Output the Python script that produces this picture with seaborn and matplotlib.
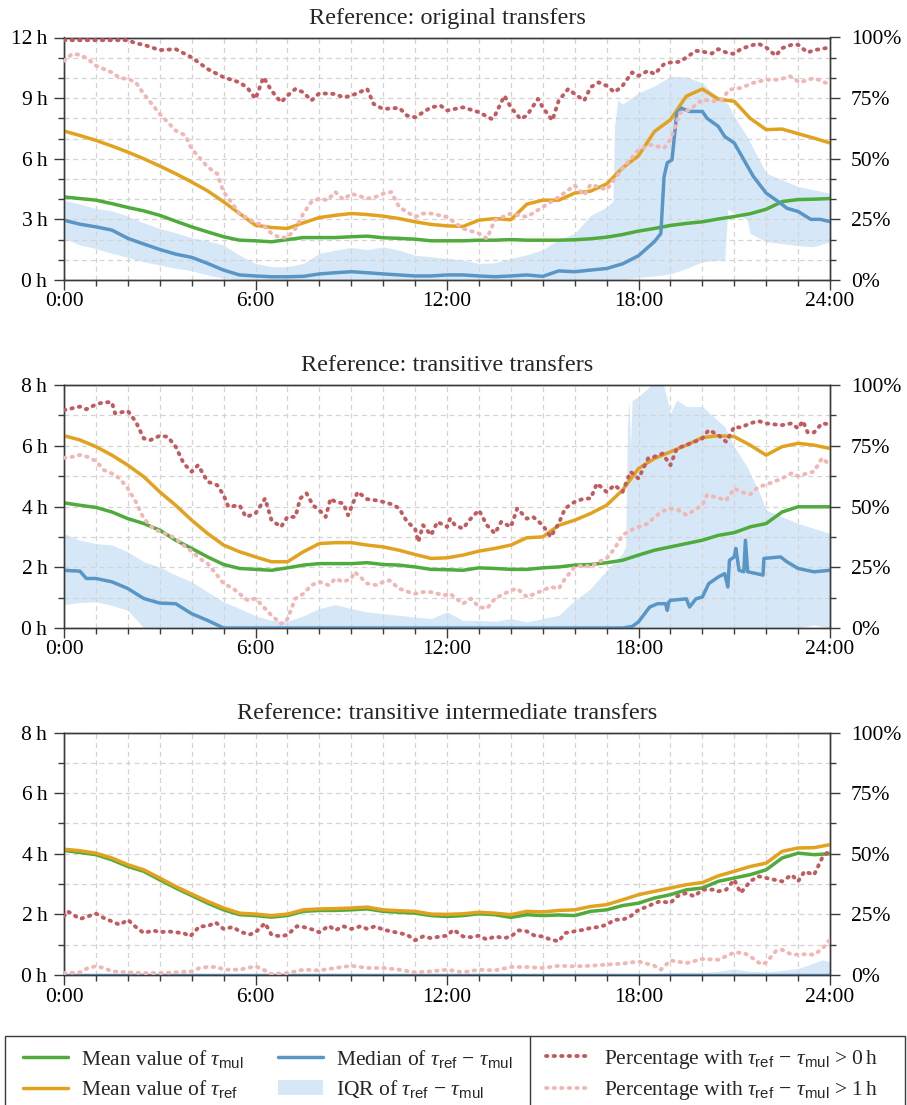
import numpy as np
import matplotlib
matplotlib.use("Agg")
import matplotlib.pyplot as plt
import seaborn as sns
from matplotlib.ticker import MultipleLocator, FuncFormatter
from matplotlib.lines import Line2D
from matplotlib.patches import Patch, Rectangle

# ---------------------------------------------------------------- data
HALF = [i * 0.5 for i in range(49)]  # 0:00 ... 24:00 in half-hour steps

# --- original transfers
orig_mean_mul = [4.11, 4.03, 3.95, 3.78, 3.59, 3.42, 3.20, 2.91, 2.63, 2.38, 2.14, 1.97, 1.94, 1.89,
                 2.00, 2.10, 2.10, 2.10, 2.14, 2.17, 2.09, 2.06, 2.02, 1.94, 1.94, 1.94, 1.97, 1.97,
                 2.00, 1.97, 1.97, 1.97, 1.99, 2.04, 2.12, 2.25, 2.42, 2.55, 2.70, 2.80, 2.88, 3.02,
                 3.14, 3.28, 3.50, 3.88, 3.98, 4.00, 4.03]
orig_mean_ref = [7.37, 7.15, 6.91, 6.63, 6.33, 6.00, 5.64, 5.26, 4.85, 4.41, 3.87, 3.29, 2.71, 2.60,
                 2.55, 2.83, 3.09, 3.20, 3.29, 3.24, 3.16, 3.04, 2.88, 2.75, 2.68, 2.65, 2.96, 3.04,
                 2.98, 3.75, 3.95, 3.95, 4.30, 4.40, 4.75, 5.55, 6.15, 7.35, 7.93, 9.10, 9.45, 8.95,
                 8.84, 8.00, 7.44, 7.47, 7.24, 7.02, 6.78]
orig_median_t = HALF[:38] + [18.7, 18.8, 18.9, 19.05, 19.2, 19.35, 19.6, 20.0, 20.15, 20.5, 20.7,
                             21.0, 21.3, 21.6, 22.0, 22.45, 22.65, 23.0, 23.4, 23.7, 24.0]
orig_median = [2.96, 2.76, 2.63, 2.47, 2.06, 1.78, 1.51, 1.28, 1.12, 0.82, 0.49, 0.25, 0.20, 0.16,
               0.16, 0.18, 0.30, 0.36, 0.41, 0.36, 0.30, 0.25, 0.20, 0.20, 0.25, 0.25, 0.20, 0.16,
               0.20, 0.25, 0.18, 0.45, 0.41, 0.49, 0.57, 0.80, 1.20, 1.90,
               2.30, 5.10, 5.80, 5.95, 8.26, 8.50, 8.34, 8.34, 8.00, 7.60, 7.10,
               6.78, 5.95, 5.12, 4.30, 3.80, 3.55, 3.39, 3.00, 3.00, 2.89]
orig_iqr_t = HALF[:35] + [17.2, 17.25, 17.35, 17.5, 18.0, 18.5, 19.0, 19.5, 20.0, 20.3, 20.7, 20.8,
                          21.0, 21.4, 21.5, 22.0, 22.5, 23.0, 23.5, 24.0]
orig_iqr_hi = [3.95, 3.75, 3.54, 3.42, 3.16, 2.83, 2.55, 2.34, 2.10, 1.94, 1.73, 1.23, 0.82, 0.66,
               0.66, 0.82, 1.32, 1.48, 1.61, 1.51, 1.64, 1.48, 1.23, 1.15, 1.07, 0.99, 0.82, 0.85,
               1.07, 1.25, 1.50, 2.00, 2.30, 3.20, 3.60,
               3.90, 7.60, 8.90, 8.70, 9.26, 9.60, 10.08, 10.05, 9.75, 9.30, 8.84, 8.70,
               8.10, 7.10, 6.80, 5.29, 4.95, 4.63, 4.46, 4.30]
orig_iqr_lo = [2.06, 1.73, 1.56, 1.32, 1.12, 0.90, 0.74, 0.58, 0.46, 0.25, 0.08, 0.0, 0.0, 0.0,
               0.0, 0.0, 0.0, 0.0, 0.0, 0.0, 0.0, 0.0, 0.0, 0.0, 0.0, 0.0, 0.0, 0.0,
               0.0, 0.0, 0.0, 0.0, 0.0, 0.0, 0.0,
               0.0, 0.0, 0.0, 0.0, 0.13, 0.20, 0.30, 0.57, 0.90, 0.95, 0.99, 3.50,
               3.30, 3.00, 2.30, 1.90, 1.80, 1.70, 1.65, 1.90]
orig_pct0_t = [0, 0.5, 1, 1.5, 2, 2.25, 2.5, 3, 3.5, 4, 4.5, 5, 5.5, 5.75, 6, 6.25, 6.5, 6.8, 7, 7.25,
               7.5, 7.75, 8, 8.5, 8.75, 9, 9.5, 9.7, 10, 10.5, 10.75, 11, 11.5, 11.8, 12, 12.5, 13,
               13.4, 13.5, 13.8, 14, 14.3, 14.5, 14.85, 15, 15.3, 15.5, 15.8, 16, 16.3, 16.5, 16.75,
               17, 17.25, 17.5, 17.8, 18, 18.3, 18.5, 18.8, 19, 19.3, 19.5, 19.8, 20, 20.3, 20.5,
               20.75, 21, 21.2, 21.5, 21.75, 22, 22.3, 22.5, 22.8, 23, 23.3, 23.5, 24]
orig_pct0 = [98.9, 98.9, 98.9, 98.9, 98.9, 97.6, 97.0, 94.8, 95.2, 91.8, 87.0, 83.6, 81.5, 79.2, 74.7,
             83.6, 78.1, 73.3, 76.0, 78.8, 77.4, 74.0, 77.0, 76.7, 75.3, 76.0, 78.8, 72.6, 70.5, 71.0,
             67.8, 67.1, 71.2, 71.9, 69.9, 71.2, 69.2, 66.4, 67.8, 76.0, 71.2, 66.4, 67.8, 74.7, 71.2,
             65.8, 74.0, 78.8, 76.7, 74.0, 79.5, 81.5, 80.1, 77.4, 80.1, 85.6, 84.2, 86.3, 84.9, 89.0,
             89.7, 90.0, 91.8, 94.5, 94.2, 93.4, 95.2, 93.8, 93.2, 95.2, 96.6, 97.5, 95.9, 92.5, 95.6,
             97.0, 97.0, 93.8, 94.8, 95.9]
orig_pct1_t = [0, 0.25, 0.5, 0.75, 1, 1.5, 1.75, 2, 2.25, 2.5, 3, 3.5, 3.8, 4, 4.5, 4.8, 5, 5.5, 6,
               6.25, 6.5, 6.75, 7, 7.25, 7.5, 7.75, 8, 8.25, 8.5, 8.75, 9, 9.5, 9.75, 10, 10.25, 10.5,
               11, 11.25, 11.5, 12, 12.5, 13, 13.25, 13.5, 14, 14.5, 15, 15.5, 16, 16.3, 16.5, 17,
               17.5, 18, 18.4, 18.8, 19, 19.3, 19.6, 20, 20.35, 20.6, 20.85, 21.2, 21.6, 22, 22.4,
               22.75, 23.05, 23.5, 24]
orig_pct1 = [90.4, 93.2, 92.9, 91.1, 88.4, 85.6, 83.3, 82.9, 81.5, 76.7, 68.5, 61.6, 59.6, 54.1, 46.6,
             43.8, 36.3, 27.4, 23.6, 22.6, 19.2, 17.5, 17.5, 21.2, 27.4, 32.2, 33.6, 32.9, 36.3, 33.2,
             35.6, 33.6, 34.2, 35.6, 36.3, 30.1, 26.0, 27.4, 27.4, 26.0, 21.2, 19.2, 17.1, 24.7, 27.4,
             26.0, 30.1, 34.2, 39.0, 35.0, 39.4, 37.2, 46.0, 53.7, 55.8, 54.4, 57.9, 68.9, 70.2, 74.4,
             73.7, 74.4, 78.5, 79.2, 81.3, 82.6, 82.6, 84.0, 81.5, 83.3, 80.6]

# --- transitive transfers
trans_mean_mul = [4.12, 4.04, 3.97, 3.82, 3.60, 3.44, 3.22, 2.89, 2.62, 2.34, 2.09, 1.96, 1.93, 1.90,
                  1.98, 2.07, 2.12, 2.12, 2.12, 2.15, 2.09, 2.07, 2.01, 1.93, 1.92, 1.90, 1.98, 1.96,
                  1.93, 1.93, 1.98, 2.01, 2.07, 2.09, 2.15, 2.23, 2.40, 2.56, 2.67, 2.78, 2.89, 3.05,
                  3.14, 3.33, 3.44, 3.82, 3.99, 3.99, 3.99]
trans_mean_ref = [6.33, 6.19, 5.97, 5.69, 5.36, 4.98, 4.48, 4.04, 3.55, 3.11, 2.73, 2.51, 2.34, 2.18,
                  2.18, 2.51, 2.78, 2.81, 2.81, 2.73, 2.67, 2.56, 2.42, 2.29, 2.31, 2.40, 2.53, 2.62,
                  2.73, 2.97, 3.00, 3.38, 3.55, 3.77, 4.04, 4.54, 5.25, 5.58, 5.80, 6.02, 6.27, 6.33,
                  6.30, 6.02, 5.69, 5.97, 6.08, 6.02, 5.91]
trans_median_t = [0, 0.5, 0.7, 1, 1.5, 2, 2.5, 3, 3.5, 4, 4.5, 5, 17.5, 17.8, 18, 18.35, 18.6, 18.85,
                  18.9, 18.95, 19, 19.5, 19.6, 19.8, 20, 20.2, 20.5, 20.7, 20.8, 20.85, 21, 21.05,
                  21.15, 21.3, 21.35, 21.42, 21.7, 21.9, 21.93, 22.45, 22.65, 23, 23.5, 24]
trans_median = [1.90, 1.87, 1.63, 1.63, 1.52, 1.30, 0.97, 0.82, 0.80, 0.47, 0.25, 0.0, 0.0, 0.05,
                0.20, 0.69, 0.80, 0.80, 0.58, 0.85, 0.91, 0.96, 0.69, 0.96, 1.02, 1.46, 1.68, 1.79,
                1.35, 2.23, 2.34, 2.62, 1.90, 1.85, 2.89, 1.85, 1.79, 1.74, 2.29, 2.34, 2.18, 1.96,
                1.85, 1.90]
trans_iqr_t = HALF[:36] + [17.6, 17.65, 17.7, 17.75, 17.8, 18.0, 18.35, 18.6, 18.8, 19.0, 19.2,
                           19.5, 20.0, 20.35, 20.7, 21.0, 21.4, 21.8, 22.0, 22.5, 23.0, 23.5, 24.0]
trans_iqr_hi = [3.11, 2.89, 2.78, 2.73, 2.51, 2.18, 2.01, 1.74, 1.52, 1.19, 0.86, 0.64, 0.40, 0.25,
                0.22, 0.40, 0.64, 0.77, 0.64, 0.53, 0.47, 0.42, 0.36, 0.31, 0.53, 0.25, 0.25, 0.22,
                0.31, 0.20, 0.31, 0.42, 0.90, 1.30, 1.90, 2.45,
                2.70, 6.50, 7.50, 6.00, 7.50, 7.62, 7.95, 8.30, 7.95, 7.07, 7.51,
                7.29, 7.29, 6.96, 6.63, 5.97, 5.31, 4.43, 3.88, 3.66, 3.44, 3.28, 3.11]
trans_iqr_lo = [0.77, 0.84, 0.86, 0.75, 0.58, 0.0, 0.0, 0.0, 0.0, 0.0, 0.0, 0.0, 0.0, 0.0,
                0.0, 0.0, 0.0, 0.0, 0.0, 0.0, 0.0, 0.0, 0.0, 0.0, 0.0, 0.0, 0.0, 0.0,
                0.0, 0.0, 0.0, 0.0, 0.0, 0.0, 0.0, 0.0,
                0.0, 0.0, 0.0, 0.0, 0.0, 0.0, 0.0, 0.0, 0.0, 0.0, 0.0,
                0.0, 0.0, 0.0, 0.0, 0.0, 0.0, 0.0, 0.0, 0.0, 0.0, 0.10, 0.0]
trans_pct0_t = [0, 0.25, 0.5, 0.7, 1, 1.25, 1.5, 1.6, 2, 2.25, 2.5, 2.7, 3, 3.25, 3.5, 3.75, 4, 4.2,
                4.5, 4.8, 5, 5.15, 5.5, 5.7, 6, 6.3, 6.5, 6.8, 7, 7.25, 7.4, 7.6, 7.8, 8, 8.2, 8.35,
                8.5, 8.75, 8.9, 9.2, 9.5, 9.8, 10, 10.3, 10.5, 10.75, 11, 11.1, 11.25, 11.5, 11.7, 12,
                12.1, 12.25, 12.5, 12.7, 13, 13.25, 13.5, 13.7, 14, 14.2, 14.5, 14.7, 15, 15.25, 15.5,
                15.7, 16, 16.3, 16.5, 16.7, 17, 17.25, 17.5, 17.75, 18, 18.3, 18.5, 18.75, 19, 19.2,
                19.5, 19.75, 20, 20.2, 20.5, 20.75, 21, 21.2, 21.5, 21.75, 22, 22.25, 22.5, 22.8, 23,
                23.15, 23.3, 23.5, 23.75, 24]
trans_pct0 = [89.7, 90.4, 91.1, 90.0, 92.0, 92.9, 92.9, 88.3, 89.3, 84.9, 78.0, 77.3, 79.1, 78.7,
              74.6, 67.7, 64.3, 67.0, 60.2, 58.8, 54.7, 49.9, 50.5, 45.7, 47.1, 53.3, 44.4, 41.6,
              45.7, 45.7, 53.3, 55.4, 50.5, 48.5, 45.7, 53.3, 51.9, 51.3, 46.4, 56.0, 53.0, 52.5,
              51.9, 50.8, 49.2, 43.7, 40.9, 35.4, 42.3, 38.2, 43.7, 41.6, 45.0, 42.3, 40.9, 44.4,
              48.5, 42.3, 38.9, 43.7, 41.6, 49.2, 45.0, 45.7, 42.3, 37.5, 43.0, 49.2, 51.9, 53.3,
              53.3, 59.5, 56.0, 58.8, 56.0, 64.3, 61.5, 69.8, 70.5, 71.8, 67.0, 73.9, 75.3, 76.6,
              78.0, 81.5, 79.4, 76.6, 82.8, 82.5, 84.2, 85.2, 84.2, 83.8, 83.5, 84.2, 82.1, 85.2,
              80.5, 80.5, 84.2, 83.8]
trans_pct1_t = [0, 0.25, 0.5, 0.75, 1, 1.25, 1.5, 1.75, 2, 2.25, 2.5, 2.8, 3, 3.3, 3.5, 3.8, 4, 4.25,
                4.5, 4.8, 5, 5.3, 5.5, 5.75, 6, 6.25, 6.5, 6.8, 6.95, 7, 7.25, 7.5, 7.75, 8, 8.3, 8.5,
                8.75, 9, 9.1, 9.4, 9.5, 9.8, 10, 10.2, 10.5, 10.8, 11, 11.25, 11.5, 11.7, 12, 12.1,
                12.5, 12.75, 13, 13.25, 13.5, 14, 14.2, 14.5, 14.75, 15, 15.25, 15.5, 15.7, 16, 16.3,
                16.5, 16.75, 17, 17.25, 17.5, 17.75, 18, 18.3, 18.5, 18.75, 19, 19.25, 19.5, 19.75,
                20, 20.15, 20.5, 20.75, 21, 21.2, 21.5, 21.75, 22, 22.3, 22.5, 22.8, 23, 23.25, 23.5,
                23.75, 24]
trans_pct1 = [70.0, 70.4, 71.2, 70.4, 68.7, 65.0, 63.6, 61.5, 57.4, 51.9, 45.0, 40.9, 39.6, 38.2,
              36.8, 33.4, 31.6, 28.6, 26.5, 21.7, 18.3, 16.2, 14.1, 11.4, 12.1, 8.7, 5.2, 1.8, 2.5,
              3.8, 12.1, 14.1, 17.6, 19.0, 17.6, 20.3, 19.0, 20.3, 23.1, 19.6, 18.3, 17.6, 19.0,
              19.6, 16.2, 14.8, 14.1, 14.8, 14.8, 14.1, 13.5, 14.1, 10.0, 12.1, 8.7, 8.0, 12.1,
              15.5, 16.2, 12.8, 14.1, 15.5, 16.9, 16.2, 20.3, 25.1, 25.8, 25.1, 27.2, 28.6, 32.7,
              38.2, 40.2, 41.6, 43.0, 45.7, 48.0, 49.2, 48.5, 46.5, 48.5, 50.6, 54.8, 53.5, 52.6,
              57.5, 56.0, 55.0, 58.0, 59.0, 60.5, 61.6, 63.7, 62.5, 63.5, 64.4, 69.9, 67.1]

# --- transitive intermediate transfers
inter_mean_mul = [4.11, 4.04, 3.97, 3.80, 3.58, 3.42, 3.14, 2.87, 2.62, 2.37, 2.15, 1.99, 1.96, 1.91,
                  1.96, 2.10, 2.13, 2.13, 2.15, 2.18, 2.10, 2.07, 2.04, 1.96, 1.93, 1.96, 2.02, 1.99,
                  1.90, 1.99, 1.96, 1.98, 1.96, 2.10, 2.15, 2.29, 2.37, 2.54, 2.65, 2.81, 2.87, 3.09,
                  3.20, 3.31, 3.47, 3.86, 4.02, 3.97, 4.00]
inter_mean_ref = [4.15, 4.10, 4.02, 3.86, 3.64, 3.47, 3.20, 2.92, 2.67, 2.43, 2.21, 2.04, 2.01, 1.96,
                  2.01, 2.15, 2.18, 2.19, 2.21, 2.24, 2.15, 2.12, 2.10, 2.01, 2.00, 2.02, 2.07, 2.04,
                  1.99, 2.10, 2.08, 2.13, 2.15, 2.26, 2.32, 2.48, 2.65, 2.76, 2.87, 2.98, 3.05, 3.27,
                  3.42, 3.58, 3.69, 4.08, 4.19, 4.20, 4.30]
inter_median_t = [0, 24]
inter_median = [0.0, 0.0]
inter_iqr_t = [0, 17, 18, 18.5, 19.5, 20, 20.5, 21, 21.5, 22, 22.5, 23, 23.25, 23.5, 23.75, 24]
inter_iqr_hi = [0.02, 0.02, 0.04, 0.05, 0.10, 0.08, 0.12, 0.20, 0.12, 0.10, 0.15, 0.22, 0.30, 0.40,
                0.50, 0.45]
inter_iqr_lo = [0.0, 0.0, 0.0, 0.0, 0.0, 0.0, 0.0, 0.0, 0.0, 0.0, 0.0, 0.0, 0.0, 0.0, 0.0, 0.0]
inter_pct0_t = [0, 0.1, 0.2, 0.5, 0.75, 1, 1.25, 1.5, 1.75, 2, 2.25, 2.5, 2.8, 3, 3.25, 3.5, 3.75,
                3.95, 4.25, 4.5, 4.75, 5, 5.3, 5.5, 5.8, 6, 6.3, 6.5, 6.8, 7, 7.3, 7.5, 7.8, 8, 8.3,
                8.5, 8.75, 9, 9.3, 9.5, 9.75, 10, 10.25, 10.5, 10.75, 11, 11.25, 11.5, 11.8, 12, 12.2,
                12.5, 12.75, 13, 13.25, 13.5, 13.8, 14, 14.25, 14.5, 14.75, 15, 15.25, 15.5, 15.7, 16,
                16.3, 16.5, 16.75, 17, 17.25, 17.5, 17.75, 18, 18.3, 18.5, 18.7, 19, 19.2, 19.5,
                19.75, 20, 20.4, 20.5, 20.75, 21, 21.2, 21.5, 21.75, 22, 22.25, 22.5, 22.8, 23, 23.2,
                23.5, 23.75, 24]
inter_pct0 = [24.2, 26.3, 25.6, 23.1, 24.2, 25.3, 23.5, 22.1, 20.7, 22.8, 19.8, 17.3, 18.4, 17.6,
              18.0, 17.6, 17.3, 15.9, 20.1, 20.1, 21.7, 19.0, 19.8, 18.0, 16.6, 17.6, 21.4, 16.6,
              15.9, 16.6, 20.1, 19.8, 18.7, 17.6, 20.3, 18.4, 20.1, 19.0, 20.1, 19.0, 20.1, 18.7,
              18.0, 17.3, 16.6, 14.3, 15.9, 15.2, 15.9, 16.2, 18.7, 15.9, 15.6, 16.2, 14.6, 15.9,
              15.2, 15.9, 18.4, 18.0, 16.2, 15.9, 14.6, 13.9, 17.3, 18.0, 18.7, 19.4, 19.8, 20.7,
              22.8, 22.8, 24.2, 26.9, 28.3, 29.7, 30.4, 29.7, 32.4, 33.8, 32.4, 35.2, 35.2, 34.5,
              35.2, 39.3, 33.8, 38.6, 40.7, 40.0, 39.3, 38.6, 41.3, 38.6, 42.7, 41.3, 48.2, 51.6]
inter_pct1_t = [0, 0.5, 0.75, 1, 1.25, 1.5, 2, 2.5, 3, 3.5, 4, 4.25, 4.5, 4.8, 5, 5.5, 6, 6.25, 6.5,
                7, 7.5, 8, 8.5, 9, 9.5, 10, 10.5, 11, 11.5, 12, 12.5, 13, 13.5, 14, 14.5, 15, 15.5,
                16, 16.5, 17, 17.5, 18, 18.5, 18.7, 19, 19.5, 20, 20.5, 21, 21.3, 21.5, 21.85, 22,
                22.3, 22.5, 22.8, 23, 23.25, 23.5, 23.75, 24]
inter_pct1 = [0.8, 1.1, 2.9, 3.6, 2.9, 1.5, 1.1, 0.8, 0.8, 1.1, 1.5, 2.9, 3.3, 3.3, 2.2, 2.2, 3.6,
              2.2, 0.4, 0.8, 2.2, 1.9, 2.9, 3.8, 2.9, 2.9, 2.2, 1.1, 1.5, 2.2, 1.1, 2.2, 1.9, 3.3,
              3.3, 2.9, 3.8, 3.6, 3.8, 4.3, 4.7, 5.6, 3.8, 2.2, 6.0, 4.9, 6.6, 6.3, 9.3, 9.1, 7.7,
              4.3, 5.2, 9.8, 10.4, 8.4, 8.4, 8.6, 8.4, 10.7, 14.6]

PANELS = [
    dict(title="Reference: original transfers", ymax=12, ymajor=3,
         mean_mul=orig_mean_mul, mean_ref=orig_mean_ref,
         median_t=orig_median_t, median=orig_median,
         iqr_t=orig_iqr_t, iqr_lo=orig_iqr_lo, iqr_hi=orig_iqr_hi,
         pct0_t=orig_pct0_t, pct0=orig_pct0, pct1_t=orig_pct1_t, pct1=orig_pct1),
    dict(title="Reference: transitive transfers", ymax=8, ymajor=2,
         mean_mul=trans_mean_mul, mean_ref=trans_mean_ref,
         median_t=trans_median_t, median=trans_median,
         iqr_t=trans_iqr_t, iqr_lo=trans_iqr_lo, iqr_hi=trans_iqr_hi,
         pct0_t=trans_pct0_t, pct0=trans_pct0, pct1_t=trans_pct1_t, pct1=trans_pct1),
    dict(title="Reference: transitive intermediate transfers", ymax=8, ymajor=2,
         mean_mul=inter_mean_mul, mean_ref=inter_mean_ref,
         median_t=inter_median_t, median=inter_median,
         iqr_t=inter_iqr_t, iqr_lo=inter_iqr_lo, iqr_hi=inter_iqr_hi,
         pct0_t=inter_pct0_t, pct0=inter_pct0, pct1_t=inter_pct1_t, pct1=inter_pct1),
]

# ---------------------------------------------------------------- style
GREEN = "#4fab3c"
ORANGE = "#e2a21f"
BLUE = "#5a96c5"
IQR = "#d6e8f8"
RED = "#c35a5f"
PINK = "#f2b6b4"
SPINE = "#3a3a3a"
GRID = "#d4d4d4"

sns.set_theme(style="ticks")
plt.rcParams.update({
    "font.family": ["Liberation Serif", "DejaVu Serif"],
    "mathtext.fontset": "custom",
    "mathtext.rm": "Liberation Serif",
    "mathtext.it": "Liberation Serif:italic",
    "mathtext.sf": "Liberation Sans",
    "font.size": 15.5,
    "axes.edgecolor": SPINE,
    "axes.linewidth": 1.0,
    "xtick.color": SPINE,
    "ytick.color": SPINE,
    "xtick.labelcolor": "black",
    "ytick.labelcolor": "black",
})

DOT = (0, (0.35, 1.6))
SOLID_LW = 2.5
DOT_LW = 2.8
TICK_FS = 15.5
TITLE_FS = 17.5

W, H = 907, 1105
fig = plt.figure(figsize=(W / 100, H / 100), dpi=100)

LEFT, RIGHT = 64, 830
TOPS = [(37.5, 280), (385, 628), (732.5, 975)]


def draw_line(ax, t, v, color, lw, ls="-", z=3):
    sns.lineplot(x=np.asarray(t, dtype=float), y=np.asarray(v, dtype=float), ax=ax,
                 color=color, linewidth=lw, linestyle=ls, sort=False, estimator=None,
                 legend=False, zorder=z, solid_capstyle="round", solid_joinstyle="round",
                 dash_capstyle="round")


for (top, bottom), p in zip(TOPS, PANELS):
    ax = fig.add_axes([LEFT / W, 1 - bottom / H, (RIGHT - LEFT) / W, (bottom - top) / H])
    ax.set_xlim(0, 24)
    ax.set_ylim(0, p["ymax"])
    ax.set_axisbelow("line")

    ax.fill_between(np.asarray(p["iqr_t"], float), p["iqr_lo"], p["iqr_hi"],
                    color=IQR, linewidth=0, zorder=1)
    draw_line(ax, HALF, p["mean_mul"], GREEN, SOLID_LW, z=3)
    draw_line(ax, HALF, p["mean_ref"], ORANGE, SOLID_LW, z=3)
    draw_line(ax, p["median_t"], p["median"], BLUE, SOLID_LW, z=3)

    ax.xaxis.set_major_locator(MultipleLocator(6))
    ax.xaxis.set_minor_locator(MultipleLocator(1))
    ax.xaxis.set_major_formatter(FuncFormatter(lambda v, _: f"{int(round(v))}:00"))
    ax.yaxis.set_major_locator(MultipleLocator(p["ymajor"]))
    ax.yaxis.set_minor_locator(MultipleLocator(1))
    ax.yaxis.set_major_formatter(FuncFormatter(lambda v, _: f"{int(round(v))}\u2009h"))
    ax.grid(True, which="both", color=GRID, linestyle=(0, (4, 3)), linewidth=0.9)
    ax.tick_params(which="major", direction="out", length=7, width=1.0, labelsize=TICK_FS)
    ax.tick_params(which="minor", direction="out", length=4, width=1.0)
    ax.tick_params(axis="x", which="major", pad=2)
    ax.tick_params(axis="y", which="major", pad=5)
    ax.set_xlabel("")
    ax.set_ylabel("")
    ax.set_title(p["title"], fontsize=TITLE_FS, pad=10)

    ax2 = ax.twinx()
    ax2.set_ylim(0, 100)
    draw_line(ax2, p["pct0_t"], p["pct0"], RED, DOT_LW, ls=DOT, z=4)
    draw_line(ax2, p["pct1_t"], p["pct1"], PINK, DOT_LW, ls=DOT, z=4)
    ax2.yaxis.set_major_locator(MultipleLocator(25))
    ax2.yaxis.set_minor_locator(MultipleLocator(100 / p["ymax"]))
    ax2.yaxis.set_major_formatter(FuncFormatter(lambda v, _: f"{int(round(v))}%"))
    ax2.tick_params(which="major", direction="out", length=7, width=1.0, labelsize=TICK_FS, pad=8)
    ax2.tick_params(which="minor", direction="out", length=4, width=1.0)
    ax2.set_ylabel("")
    ax2.set_xlim(0, 24)
    for s in ax2.spines.values():
        s.set_color(SPINE)

# ---------------------------------------------------------------- legend
frame_top = 1036
fig.add_artist(Rectangle((5 / W, -0.02), 900 / W, 1 - frame_top / H + 0.02,
                         transform=fig.transFigure, fill=False, edgecolor=SPINE, linewidth=1.0))
fig.add_artist(Line2D([530 / W, 530 / W], [-0.02, 1 - frame_top / H],
                      transform=fig.transFigure, color=SPINE, linewidth=1.0))

h_mul = Line2D([], [], color=GREEN, lw=SOLID_LW)
h_ref = Line2D([], [], color=ORANGE, lw=SOLID_LW)
h_med = Line2D([], [], color=BLUE, lw=SOLID_LW)
h_iqr = Patch(facecolor=IQR, edgecolor="none")
h_p0 = Line2D([], [], color=RED, lw=DOT_LW, linestyle=DOT, dash_capstyle="round")
h_p1 = Line2D([], [], color=PINK, lw=DOT_LW, linestyle=DOT, dash_capstyle="round")

TAU_MUL = r"$\tau_{\mathsf{mul}}$"
TAU_REF = r"$\tau_{\mathsf{ref}}$"
DIFF = r"$\tau_{\mathsf{ref}}\,-\,\tau_{\mathsf{mul}}$"

leg_kw = dict(frameon=False, fontsize=15.5, handlelength=2.1, handletextpad=0.6,
              labelspacing=0.38, borderpad=0.0, borderaxespad=0.0, loc="upper left")
fig.legend([h_mul, h_ref, h_med, h_iqr],
           ["Mean value of " + TAU_MUL, "Mean value of " + TAU_REF,
            "Median of " + DIFF, "IQR of " + DIFF],
           ncol=2, columnspacing=1.6, bbox_to_anchor=(23 / W, 1 - 1048 / H), **leg_kw)
fig.legend([h_p0, h_p1],
           ["Percentage with " + DIFF + r" > 0$\,$h", "Percentage with " + DIFF + r" > 1$\,$h"],
           ncol=1, bbox_to_anchor=(546 / W, 1 - 1048 / H), **leg_kw)

fig.savefig("out.png", dpi=100)
